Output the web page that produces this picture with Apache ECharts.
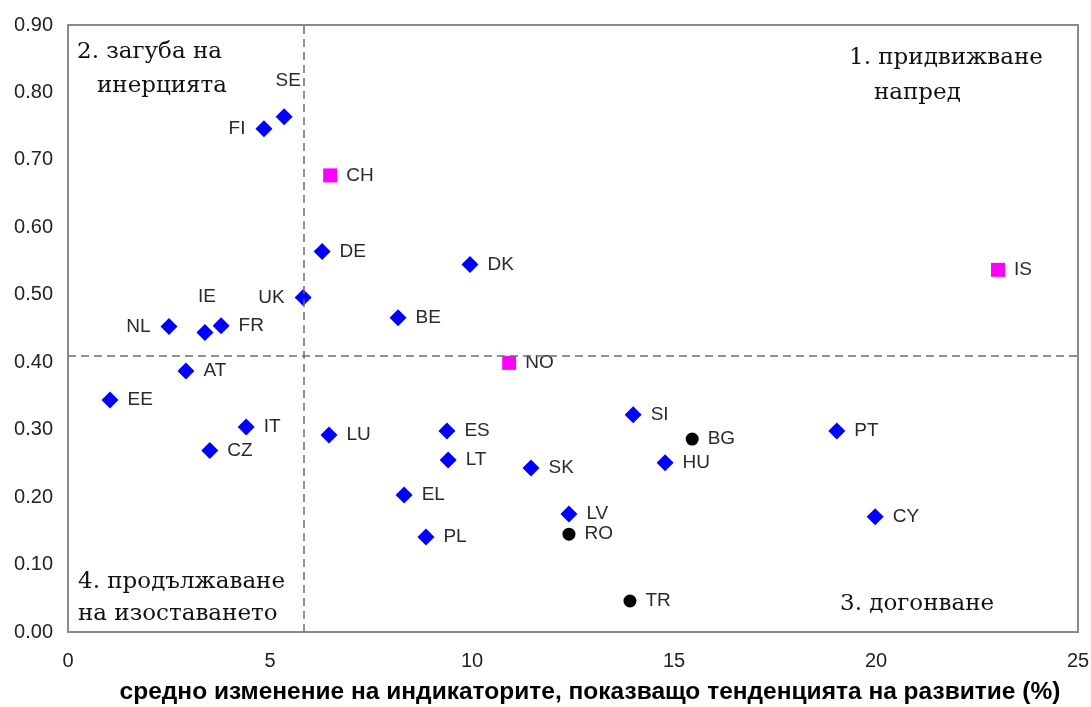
<!DOCTYPE html>
<html>
<head>
<meta charset="utf-8">
<script src="https://cdn.jsdelivr.net/npm/echarts@6/dist/echarts.min.js"></script>
<style>html,body{margin:0;padding:0;background:#fff;}#c{width:1091px;height:707px;}</style>
</head>
<body>
<div id="c"></div>
<script>
// EU member states (blue diamonds)
const euNames = ['FI','SE','DE','DK','UK','BE','NL','IE','FR','AT','EE','IT','CZ','LU','ES','LT','SK','EL','PL','LV','SI','HU','PT','CY'];
const euX = [4.85,5.35,6.29,9.95,5.82,8.17,2.50,3.39,3.79,2.92,1.04,4.41,3.51,6.46,9.38,9.41,11.46,8.32,8.86,12.40,13.99,14.78,19.03,19.98];
const euY = [0.746,0.764,0.564,0.545,0.496,0.466,0.453,0.444,0.454,0.387,0.344,0.304,0.269,0.292,0.298,0.255,0.243,0.203,0.141,0.175,0.322,0.251,0.298,0.171];
// EFTA countries (magenta squares)
const eftaNames = ['CH','NO','IS'];
const eftaX = [6.49,10.92,23.02];
const eftaY = [0.677,0.399,0.537];
// Candidate countries (black circles)
const candNames = ['BG','RO','TR'];
const candX = [15.45,12.40,13.91];
const candY = [0.286,0.145,0.046];
// Quadrant dividers
const xDivider = 5.84;
const yDivider = 0.41;
// Axis ticks
const xMin = 0, xMax = 25, xStep = 5;
const yMin = 0, yMax = 0.9, yStep = 0.1;
const xTitle = 'средно изменение на индикаторите, показващо тенденцията на развитие (%)';
const quadrantTexts = ['2. загуба на','инерцията','1. придвижване','напред','4. продължаване','на изоставането','3. догонване'];

// label placement (style)
const labelLeft = {FI:1, NL:1, UK:1};
const labelTop = {SE:[4,0], IE:[2,0]};

function build(names, xs, ys) {
  return names.map((n, i) => {
    const d = {name: n, value: [xs[i], ys[i]]};
    if (labelLeft[n]) d.label = {position: 'left', distance: 10};
    else if (labelTop[n]) d.label = {position: 'top', distance: 18, offset: labelTop[n]};
    return d;
  });
}

const labelStyle = {
  show: true, position: 'right', distance: 9,
  formatter: p => p.name,
  fontFamily: 'Liberation Sans, Arial, sans-serif', fontSize: 19, color: '#2a2a2a'
};

const chart = echarts.init(document.getElementById('c'), null, {renderer: 'canvas'});
const qFont = '23px "DejaVu Serif", serif';
chart.setOption({
  animation: false,
  backgroundColor: '#fff',
  grid: {left: 68, top: 25, right: 13, bottom: 75, outerBoundsMode: 'none', containLabel: false,
         show: true, borderColor: '#8a8a8a', borderWidth: 2, backgroundColor: 'transparent'},
  xAxis: {
    type: 'value', min: xMin, max: xMax, interval: xStep,
    axisLine: {show: false}, axisTick: {show: false}, splitLine: {show: false},
    axisLabel: {fontFamily: 'Liberation Sans, Arial, sans-serif', fontSize: 20, color: '#222', margin: 19},
    name: xTitle, nameLocation: 'middle', nameGap: 48,
    nameTextStyle: {fontFamily: 'Liberation Sans, Arial, sans-serif', fontSize: 24.5, fontWeight: 'bold', color: '#000', padding: [0,0,0,34]}
  },
  yAxis: {
    type: 'value', min: yMin, max: yMax, interval: yStep,
    axisLine: {show: false}, axisTick: {show: false}, splitLine: {show: false},
    axisLabel: {fontFamily: 'Liberation Sans, Arial, sans-serif', fontSize: 20, color: '#222', margin: 15, formatter: v => v.toFixed(2)}
  },
  graphic: [
    {type: 'text', left: 77, top: 41, style: {text: quadrantTexts[0], font: qFont, fill: '#111'}},
    {type: 'text', left: 97, top: 75, style: {text: quadrantTexts[1], font: qFont, fill: '#111'}},
    {type: 'text', left: 849, top: 47, style: {text: quadrantTexts[2], font: qFont, fill: '#111'}},
    {type: 'text', left: 874, top: 82, style: {text: quadrantTexts[3], font: qFont, fill: '#111'}},
    {type: 'text', left: 78, top: 571, style: {text: quadrantTexts[4], font: qFont, fill: '#111'}},
    {type: 'text', left: 78, top: 603, style: {text: quadrantTexts[5], font: qFont, fill: '#111'}},
    {type: 'text', left: 840, top: 593, style: {text: quadrantTexts[6], font: qFont, fill: '#111'}}
  ],
  series: [
    {
      type: 'scatter', name: 'EU', symbol: 'diamond', symbolSize: 17,
      itemStyle: {color: '#0000ff', opacity: 1}, label: labelStyle,
      data: build(euNames, euX, euY),
      z: 3,
      markLine: {
        silent: true, symbol: 'none', label: {show: false},
        lineStyle: {color: '#6e6e6e', type: [8, 5], width: 1.5},
        data: [{xAxis: xDivider}, {yAxis: yDivider}]
      }
    },
    {
      type: 'scatter', name: 'EFTA', symbol: 'rect', symbolSize: 14,
      itemStyle: {color: '#ff00ff', opacity: 1}, label: labelStyle,
      data: build(eftaNames, eftaX, eftaY), z: 3
    },
    {
      type: 'scatter', name: 'Candidates', symbol: 'circle', symbolSize: 13,
      itemStyle: {color: '#000', opacity: 1}, label: labelStyle,
      data: build(candNames, candX, candY), z: 3
    }
  ]
});
</script>
</body>
</html>
